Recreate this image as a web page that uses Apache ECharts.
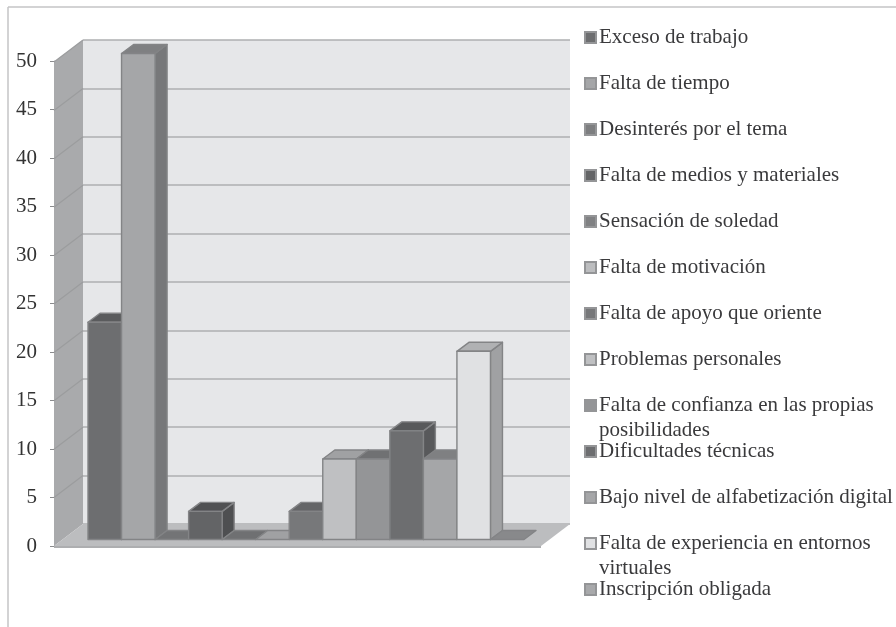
<!DOCTYPE html>
<html><head><meta charset="utf-8">
<style>html,body{margin:0;padding:0;background:#fff}#c{width:896px;height:627px}</style>
<script src="https://cdn.jsdelivr.net/npm/echarts@6/dist/echarts.min.js"></script>
</head><body><div id="c"></div>
<script>
const categories = ["Exceso de trabajo","Falta de tiempo","Desinterés por el tema","Falta de medios y materiales","Sensación de soledad","Falta de motivación","Falta de apoyo que oriente","Problemas personales","Falta de confianza en las propias posibilidades","Dificultades técnicas","Bajo nivel de alfabetización digital","Falta de experiencia en entornos virtuales","Inscripción obligada"];
const values = [22.4,50.1,0,2.9,0,0,2.9,8.3,8.3,11.2,8.3,19.4,0];
const wallTicks = [0,5,10,15,20,25,30,35,40,45,50];
const frontColors = ["#6d6e70","#a5a6a8","#7d7e80","#636466","#808183","#bcbdbf","#77787a","#bfc0c2","#949597","#6d6e70","#a5a6a8","#e0e1e3","#a8a9ab"];
const topColors = ["#5a5b5d","#7f8082","#737476","#505153","#6f7072","#a0a1a3","#646567","#a0a1a3","#707173","#58595b","#7f8082","#b0b1b3","#88898b"];
const sideColors = ["#58595b","#77787a","#6b6c6e","#4e4f51","#696a6c","#98999b","#5e5f61","#98999b","#6a6b6d","#58595b","#77787a","#a0a1a3","#808183"];
const legendNames = {
  "Falta de confianza en las propias posibilidades":"Falta de confianza en las propias\nposibilidades",
  "Falta de experiencia en entornos virtuales":"Falta de experiencia en entornos\nvirtuales"
};
const FONT='"Liberation Serif",serif', EDGE='#838486';
const WALL_DX=29, WALL_DY=22, BAR_DX=12, BAR_DY=9;
const LEG_TOP=25, LEG_STEP=46;

function barItem(i){return function(params,api){
  const cat=api.value(0), v=api.value(1);
  const base=api.coord([cat,0]), top=api.coord([cat,v]);
  const w=api.size([1,0])[0];
  const l=base[0]-w/2, r=base[0]+w/2, b=base[1], t=top[1];
  const ln={stroke:EDGE,lineWidth:1.4,lineJoin:'round'};
  const poly=(pts,fill)=>({type:'polygon',shape:{points:pts},style:Object.assign({fill},ln)});
  const ch=[];
  if(v>0) ch.push(poly([[r,b],[r+BAR_DX,b-BAR_DY],[r+BAR_DX,t-BAR_DY],[r,t]],sideColors[i]));
  ch.push(poly([[l,t],[r,t],[r+BAR_DX,t-BAR_DY],[l+BAR_DX,t-BAR_DY]],topColors[i]));
  if(v>0) ch.push(poly([[l,t],[r,t],[r,b],[l,b]],frontColors[i]));
  return {type:'group',children:ch};
};}

function wallItem(params,api){
  const p=api.coord([0,api.value(1)]);
  const cs=params.coordSys, x=cs.x, X=cs.x+cs.width, y0=cs.y+cs.height, y1=cs.y;
  const ch=[];
  if(params.dataIndex===0){
    ch.push({type:'polygon',shape:{points:[[x,y1],[x,y0],[x-WALL_DX,y0+WALL_DY],[x-WALL_DX,y1+WALL_DY]]},style:{fill:'#a9aaac'}});
    ch.push({type:'polygon',shape:{points:[[x-WALL_DX,y0+WALL_DY],[X-WALL_DX,y0+WALL_DY],[X-WALL_DX,y0+WALL_DY+2],[x-WALL_DX,y0+WALL_DY+2]]},style:{fill:'#adaeb0'}});
    ch.push({type:'polygon',shape:{points:[[x,y0],[X,y0],[X-WALL_DX,y0+WALL_DY],[x-WALL_DX,y0+WALL_DY]]},style:{fill:'#bcbdbf'}});
  }
  if(params.dataIndex>0){
    ch.push({type:'line',shape:{x1:x,y1:p[1],x2:x-WALL_DX,y2:p[1]+WALL_DY},style:{stroke:'#9b9c9e',lineWidth:1.2}});
  }
  return {type:'group',children:ch};
}

const hiddenCat=(g)=>({type:'category',gridIndex:g,data:categories,show:false});
const barSeries=categories.map((name,i)=>({
  type:'custom',name,xAxisIndex:1,yAxisIndex:1,z:5,
  itemStyle:{color:frontColors[i],borderColor:'#949597',borderWidth:0.8},
  data:[[i,values[i]]],renderItem:barItem(i),silent:true,clip:false
}));
const legends=categories.map((name,i)=>{
  const wrapped=!!legendNames[name];
  return {
    data:[name],orient:'vertical',left:584,top:LEG_TOP+i*LEG_STEP,padding:0,
    itemWidth:11,itemHeight:wrapped?36:11,itemGap:0,selectedMode:false,
    icon:wrapped?'path://M0 0H11V11H0Z M0 36L0 36':'rect',
    formatter:n=>legendNames[n]||n,
    textStyle:{fontFamily:FONT,fontSize:21,color:'#3a3a3c',lineHeight:25,padding:[0,0,0,-2]}
  };
});

const chart=echarts.init(document.getElementById('c'),null,{renderer:'canvas'});
chart.setOption({
  animation:false,backgroundColor:'#fff',
  grid:[
    {left:54,top:61,width:486,height:485},
    {left:88,top:54.5,width:436,height:485},
    {left:83,top:40,width:487,height:484,show:true,backgroundColor:'#e6e7e9',borderWidth:0}
  ],
  xAxis:[hiddenCat(0),hiddenCat(1),hiddenCat(2)],
  yAxis:[
    {type:'value',gridIndex:0,min:0,max:50,interval:5,
     axisLine:{show:true,lineStyle:{color:'#a5a6a8',width:1}},
     axisTick:{show:true,length:4,lineStyle:{color:'#8a8b8d'}},
     axisLabel:{margin:17,fontFamily:FONT,fontSize:21,color:'#333'},
     splitLine:{show:false}},
    {type:'value',gridIndex:1,min:0,max:50,show:false,splitLine:{show:false}},
    {type:'value',gridIndex:2,min:0,max:50,interval:5,
     axisLine:{show:false},axisTick:{show:false},axisLabel:{show:false},
     splitLine:{show:true,lineStyle:{color:'#aeafb1',width:1.5}}}
  ],
  legend:legends,
  graphic:[
    {type:'line',shape:{x1:8,y1:7,x2:896,y2:7},style:{stroke:'#c4c5c6',lineWidth:1.5}},
    {type:'line',shape:{x1:8,y1:7,x2:8,y2:627},style:{stroke:'#c4c5c6',lineWidth:1.5}}
  ],
  series:[{type:'custom',xAxisIndex:2,yAxisIndex:2,z:1,silent:true,clip:false,
    data:wallTicks.map(t=>[0,t]),renderItem:wallItem}].concat(barSeries)
});
</script></body></html>
